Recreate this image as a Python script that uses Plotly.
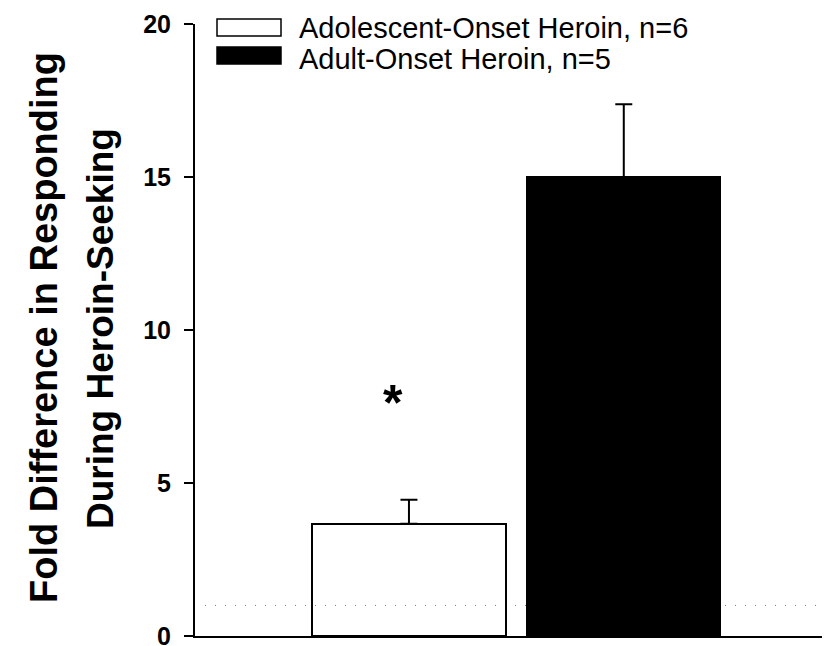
import plotly.graph_objects as go

# ---- data ----
groups = ["Adolescent-Onset Heroin, n=6", "Adult-Onset Heroin, n=5"]
group_pos = [1, 2]
means = [3.67, 15.0]
sems = [0.78, 2.38]
fills = ["rgba(0,0,0,0)", "black"]
baseline = 1.0
sig_label = "*"
sig_pos = 1
sig_y = 7.6
y_ticks = [0, 5, 10, 15, 20]
y_title_lines = ["Fold Difference in Responding", "During Heroin-Seeking"]

# page body has an 8px margin, so the figure is sized/placed to compensate
OFF = 8
W, H = 830 - OFF, 646 - OFF
L, R, T, B = 195 - OFF, 0, 24 - OFF, 10
FONT = "Arial, Liberation Sans, sans-serif"
pw, ph = W - L - R, H - T - B


def px_x(sx):
    return (sx - OFF - L) / pw


def px_y(sy):
    return (H - B - (sy - OFF)) / ph


fig = go.Figure()
for i in range(len(groups)):
    fig.add_trace(go.Bar(
        x=[group_pos[i]], y=[means[i]], width=0.9, name=groups[i],
        marker=dict(color=fills[i], line=dict(color="black", width=2)),
        error_y=dict(type="data", symmetric=False, array=[sems[i]], arrayminus=[0],
                     color="black", thickness=2, width=8.5),
        showlegend=False,
    ))

# dotted baseline at y = 1
fig.add_shape(type="line", xref="paper", yref="y", x0=px_x(205), x1=1, y0=baseline, y1=baseline,
              line=dict(color="#7a7a7a", width=1, dash="1px,9px"), layer="below")

# significance asterisk
fig.add_annotation(x=sig_pos, y=sig_y, text="<b>" + sig_label + "</b>", showarrow=False,
                   xshift=-16, font=dict(family=FONT, size=50, color="black"),
                   yanchor="middle")

# custom legend
legend_rows = [(19, 36, 28.5), (47, 64, 59)]
for i, (y0, y1, yc) in enumerate(legend_rows):
    fig.add_shape(type="rect", xref="paper", yref="paper",
                  x0=px_x(217), x1=px_x(281), y0=px_y(y1), y1=px_y(y0),
                  line=dict(color="black", width=1.5), fillcolor=("white" if i == 0 else "black"))
    fig.add_annotation(xref="paper", yref="paper", x=px_x(297), y=px_y(yc), text=groups[i],
                       showarrow=False, xanchor="left", yanchor="middle",
                       font=dict(family=FONT, size=29, color="black"))

# y-axis title (two rotated lines)
for sx, line, fs in zip([44, 100], y_title_lines, [38, 37]):
    fig.add_annotation(xref="paper", yref="paper", x=px_x(sx), y=px_y(328), text="<b>" + line + "</b>",
                       textangle=-90, showarrow=False, xanchor="center", yanchor="middle",
                       font=dict(family=FONT, size=fs, color="black"))

fig.update_layout(
    width=W, height=H, margin=dict(l=L, r=R, t=T, b=B),
    plot_bgcolor="white", paper_bgcolor="white",
    font=dict(family=FONT, color="black"),
    bargap=0,
    xaxis=dict(range=[0.004, 2.96], showticklabels=False, ticks="", showgrid=False,
               zeroline=False, showline=True, linecolor="black", linewidth=2),
    yaxis=dict(range=[0, 20], tickvals=y_ticks, ticks="outside", ticklen=9, tickwidth=2,
               tickcolor="black", showgrid=False, zeroline=False, showline=True,
               linecolor="black", linewidth=2, automargin=False,
               ticklabeloverflow="allow", ticklabelstandoff=8,
               tickfont=dict(family=FONT, size=25, color="black", weight="bold")),
)

fig.write_html("out.html")
